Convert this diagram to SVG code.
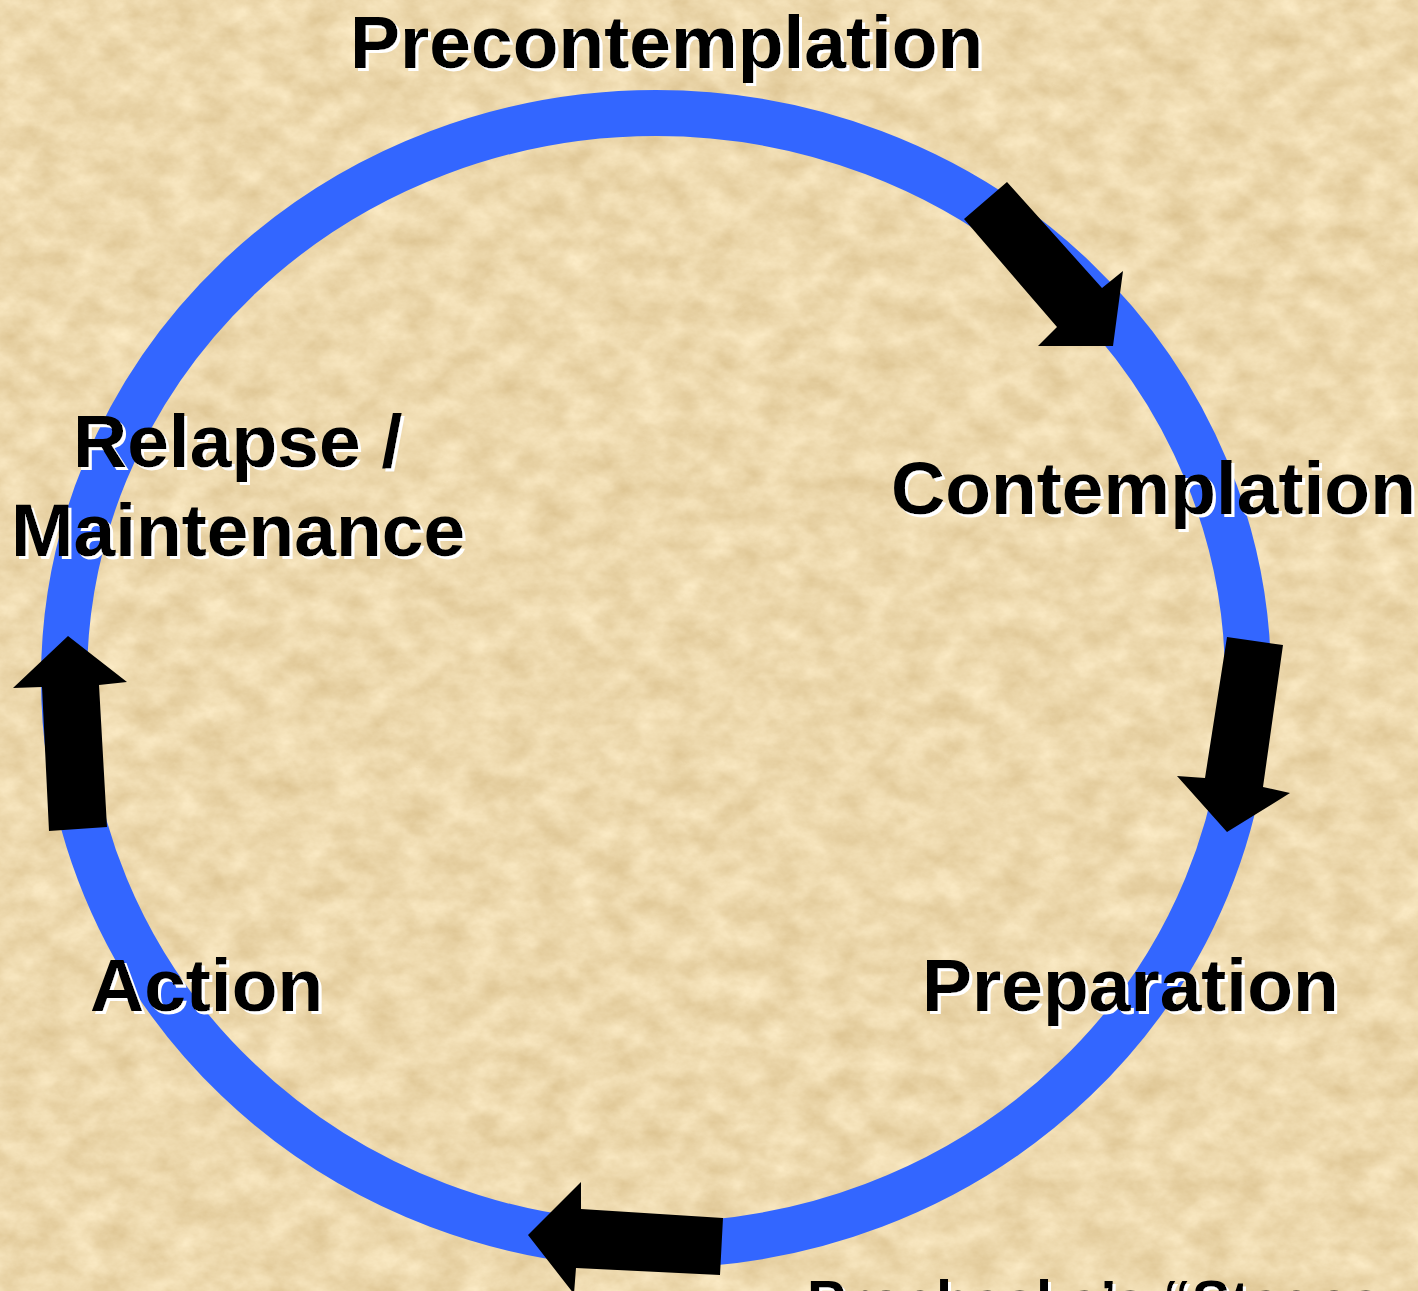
<svg xmlns="http://www.w3.org/2000/svg" width="1418" height="1291" viewBox="0 0 1418 1291">
  <defs>
    <filter id="paper" x="0" y="0" width="1418" height="1291" filterUnits="userSpaceOnUse" color-interpolation-filters="sRGB">
      <feTurbulence type="fractalNoise" baseFrequency="0.03 0.04" numOctaves="5" seed="7" result="n"/>
      <feColorMatrix in="n" type="matrix" values="0.14 0 0 0 0.86  0.18 0 0 0 0.76  0.24 0 0 0 0.56  0 0 0 0 1"/>
    </filter>
    <filter id="shadow" x="-5%" y="-20%" width="110%" height="140%">
      <feOffset in="SourceAlpha" dx="3" dy="3" result="off"/>
      <feFlood flood-color="#ffffff" result="white"/>
      <feComposite in="white" in2="off" operator="in" result="sh"/>
      <feMerge>
        <feMergeNode in="sh"/>
        <feMergeNode in="SourceGraphic"/>
      </feMerge>
    </filter>
    <style>
      .lbl { font-family: "Liberation Sans", Arial, sans-serif; font-weight: bold; font-size: 75px; fill: #000000; filter: url(#shadow); }
      .cap { font-size: 58px; }
      .arrow { fill: #000000; }
      .ring { fill: none; stroke: #3366ff; stroke-width: 46; }
    </style>
  </defs>

  <rect x="0" y="0" width="1418" height="1291" fill="#ebd6ab"/>
  <rect x="0" y="0" width="1418" height="1291" filter="url(#paper)"/>

  <g id="cycle">
    <ellipse class="ring" cx="656" cy="679" rx="592" ry="566"/>
  </g>

  <g id="connectors">
    <polygon class="arrow" points="1007,182 1102,288 1123,271 1113,346 1038,346 1057,327 964,219"/>
    <polygon class="arrow" points="1227,637 1283,645 1263,787 1290,793 1227,832 1177,776 1205,778"/>
    <polygon class="arrow" points="723,1218 720,1275 576,1268 574,1294 528,1235 581,1182 581,1209"/>
    <polygon class="arrow" points="68,636 127,682 99,685 107,827 49,831 42,687 13,688"/>
  </g>

  <g id="precontemplation">
    <text class="lbl" x="350" y="68">Precontemplation</text>
  </g>

  <g id="contemplation">
    <text class="lbl" x="891" y="514">Contemplation</text>
  </g>

  <g id="preparation">
    <text class="lbl" x="922" y="1011">Preparation</text>
  </g>

  <g id="action">
    <text class="lbl" x="90" y="1011">Action</text>
  </g>

  <g id="relapse">
    <text class="lbl" x="73" y="467">Relapse /</text>
    <text class="lbl" x="11" y="556">Maintenance</text>
  </g>

  <g id="caption">
    <text class="lbl cap" x="807" y="1321">Prochaska’s “Stages</text>
  </g>
</svg>
